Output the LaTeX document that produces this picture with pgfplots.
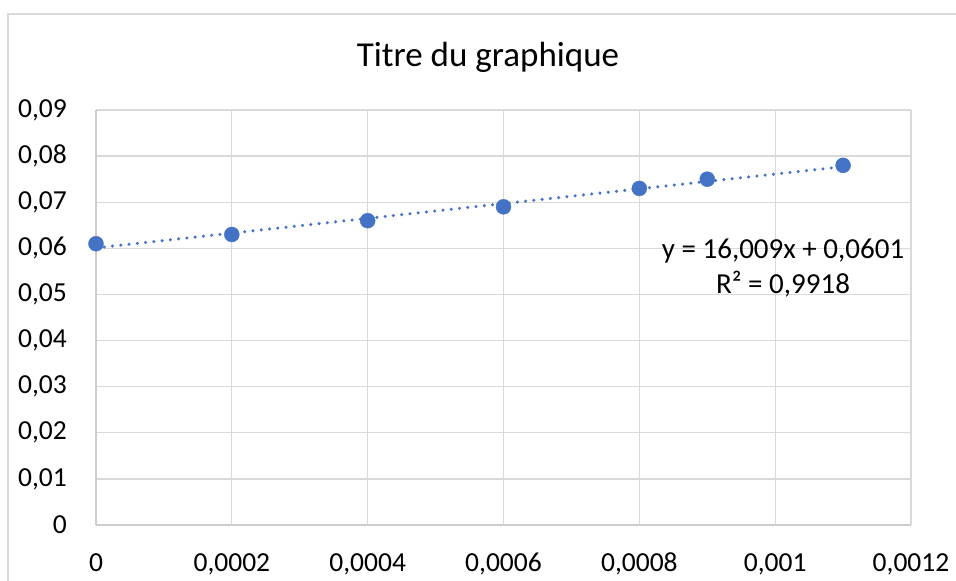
\documentclass[border=0pt]{standalone}
\usepackage{fontspec}
\setmainfont{Carlito}
\usepackage{pgfplots}
\pgfplotsset{compat=1.18}
\definecolor{xlblue}{HTML}{4472C4}
\definecolor{gridgray}{HTML}{D9D9D9}
\definecolor{axisgray}{HTML}{CCCCCC}
\begin{document}
\begin{tikzpicture}
\useasboundingbox (-96bp,-56bp) rectangle (860bp,525bp);
\draw[gridgray, line width=1.3bp] (-88bp,-120bp) rectangle (920bp,511bp);
\begin{axis}[at={(0,0)}, anchor=south west, scale only axis,
  width=815bp, height=415bp,
  xmin=0, xmax=0.0012, ymin=0, ymax=0.09,
  xtick={0,0.0002,0.0004,0.0006,0.0008,0.001,0.0012},
  xticklabels={0,{0,0002},{0,0004},{0,0006},{0,0008},{0,001},{0,0012}},
  ytick={0,0.01,0.02,0.03,0.04,0.05,0.06,0.07,0.08,0.09},
  yticklabels={0,{0,01},{0,02},{0,03},{0,04},{0,05},{0,06},{0,07},{0,08},{0,09}},
  scaled ticks=false,
  grid=major, major grid style={gridgray, line width=1.3bp},
  axis x line*=bottom, axis y line*=left,
  axis line style={-, axisgray, line width=1.3bp},
  major tick length=0pt,
  tick label style={font=\fontsize{27.5bp}{32bp}\selectfont, inner sep=0pt},
  xticklabel style={anchor=north, yshift=-28bp},
  yticklabel style={anchor=east, xshift=-29bp},
  clip=false]
\addplot[xlblue, line width=3.4bp, dash pattern=on 0.01bp off 8.3bp, line cap=round]
  coordinates {(0,0.0601) (0.0011,0.0777099)};
\addplot[only marks, mark=*, mark size=7.5bp, mark options={fill=xlblue, draw=xlblue}]
  coordinates {(0,0.061) (0.0002,0.063) (0.0004,0.066) (0.0006,0.069) (0.0008,0.073) (0.0009,0.075) (0.0011,0.078)};
\node[anchor=base, font=\fontsize{29bp}{34bp}\selectfont, inner sep=0pt] at (axis cs:0.0010116,0.05769) {y = 16,009x + 0,0601};
\node[anchor=base, font=\fontsize{29bp}{34bp}\selectfont, inner sep=0pt] at (axis cs:0.0010116,0.0501) {R² = 0,9918};
\end{axis}
\node[anchor=base, font=\fontsize{35bp}{40bp}\selectfont, inner sep=0pt] at (392bp,458bp) {Titre du graphique};
\end{tikzpicture}
\end{document}
